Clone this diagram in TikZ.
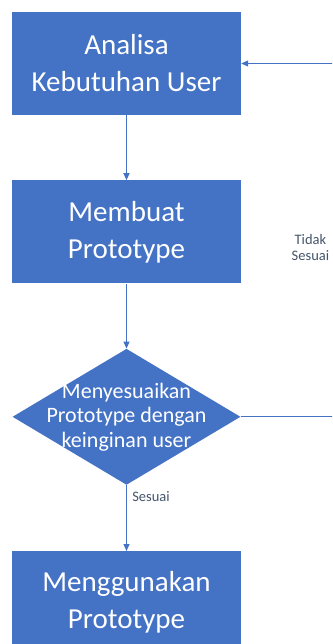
\documentclass[tikz,border=0pt]{standalone}
\usepackage{fontspec}
\setmainfont{Carlito}
\usetikzlibrary{arrows.meta,positioning,shapes.geometric}
\definecolor{boxblue}{RGB}{68,114,196}
\definecolor{notegray}{RGB}{68,84,106}

\begin{document}
\begin{tikzpicture}[
  x=1pt, y=1pt,
  box/.style={
     rectangle, fill=boxblue, text=white,
     inner sep=0pt, align=center,
     minimum width=229pt, minimum height=103pt,
     font=\fontsize{29}{37}\selectfont},
  decision/.style={
     diamond, fill=boxblue, inner sep=0pt,
     minimum width=228pt, minimum height=136pt},
  decisiontext/.style={text=white, align=center,
     font=\fontsize{22}{24.5}\selectfont},
  note/.style={text=notegray, align=center,
     font=\fontsize{14.5}{16}\selectfont},
  arrow/.style={draw=boxblue, line width=1pt,
     -{Triangle[length=7pt,width=6pt]}},
  node distance=65pt]
\clip (0,0) rectangle (332,-644);
% main column
\node[box] (analisa) at (126.5,-63.5) {Analisa\\Kebutuhan User};
\node[box,below=of analisa] (membuat) {Membuat\\Prototype};
\node[decision,below=of membuat] (cek) {};
\node[decisiontext] (cektext) at (cek) {Menyesuaikan\\Prototype dengan\\keinginan user};
\node[box,below=66pt of cek] (pakai) {Menggunakan\\Prototype};
% feedback loop
\coordinate (balik) at (340,0 |- cek.east);
% arrows
\draw[arrow] (analisa) -- (membuat);
\draw[arrow] (membuat) -- (cek);
\draw[arrow] (cek) -- node[note,pos=0.18,anchor=west,xshift=2pt] {Sesuai} (pakai);
\draw[arrow] (cek.east) -- (balik)
  |- node[note,pos=0.24,left=7pt] {Tidak\\Sesuai} (analisa.east);
\end{tikzpicture}
\end{document}
